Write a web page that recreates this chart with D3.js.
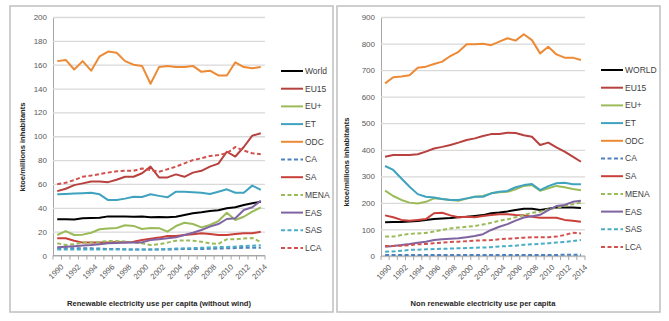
<!DOCTYPE html>
<html>
<head>
<meta charset="utf-8">
<script src="https://cdn.jsdelivr.net/npm/d3@7"></script>
<style>
    body { margin: 0; background: #fff; }
    svg { font-family: "Liberation Sans", Arial, sans-serif; }
</style>
</head>
<body>
<svg width="669" height="321"></svg>
<script>
// years on the x axis
var years = d3.range(1990, 2015);

// renewable electricity use per capita (without wind), ktoe / millions inhabitants
var renWorld = [30.3, 30.5, 30.2, 31.2, 31.5, 31.7, 32.8, 32.8, 32.6, 32.5, 32.8, 32, 32.2, 32, 32.5, 34, 35.4, 36.2, 37.3, 37.9, 39.6, 40.4, 42.3, 43.8, 45.1];
var renEU15 = [54, 56, 59, 60.5, 62, 62, 61.5, 63.5, 66, 66, 69, 74.5, 65.5, 65.5, 68, 66, 69.5, 71, 74.5, 77, 87, 83, 91, 100.5, 102.5];
var renEUplus = [17.2, 20.5, 17.2, 17.5, 19.1, 22, 22.6, 23.1, 25.3, 24.8, 22.2, 23, 22.9, 20, 24.7, 27.5, 26.4, 23.6, 25.6, 28.9, 35.9, 29.8, 32.5, 36.7, 40.4];
var renET = [51.3, 51.6, 52, 52.3, 52.6, 51.3, 46.5, 46.5, 47.7, 49.3, 49, 51.3, 50, 48.8, 53.5, 53.5, 53, 52.6, 51.6, 53.5, 55.5, 52.6, 52.6, 58.6, 55];
var renODC = [163, 164, 156, 163, 155, 167, 171, 170, 163, 160, 159, 144, 158, 159, 158, 158, 159, 154, 155, 151, 151, 162, 158, 157, 158];
var renCA = [6, 6, 6, 6, 6, 5.8, 5.5, 5.5, 5.2, 5, 5, 5, 5, 5, 5.2, 5.5, 5.5, 5.5, 5.6, 5.8, 6, 6.2, 6.5, 6.5, 6.5];
var renSA = [14.4, 14.4, 12.4, 10.8, 10.8, 11, 10.8, 11.3, 11, 11.5, 13, 14, 15, 16.4, 16.4, 17.2, 17.8, 18.6, 18.1, 17.2, 17.2, 18, 18.6, 18.6, 20];
var renMENA = [10.2, 8.8, 9.5, 10.8, 10.8, 11.4, 12.2, 12.2, 11.7, 10.8, 10.2, 8.8, 9.5, 10.8, 12.4, 12.7, 12.4, 11.6, 10.2, 9.8, 13.6, 13.6, 14.2, 14.7, 11.3];
var renEAS = [6.9, 7.3, 7.8, 8.3, 8.8, 9.5, 10.2, 10.5, 10.8, 11, 11, 13, 13.7, 14.4, 15.2, 17.2, 19.1, 21.4, 24.2, 26.4, 30.6, 31.2, 38.2, 40.4, 46];
var renSAS = [5, 5, 5, 5, 5, 5, 5, 5, 5, 5, 5, 5, 5.2, 5.5, 5.8, 6, 6.2, 6.5, 6.8, 7, 7.2, 7.5, 8, 8.2, 8.5];
var renLCA = [59.7, 61, 63.3, 66, 67, 68.3, 69.5, 70.6, 71, 71, 73, 71.7, 70.3, 72.3, 74.5, 77.3, 80, 81.5, 83.4, 84.3, 85.7, 91, 88, 85.7, 85];

// non renewable electricity use per capita
var nonWorld = [127, 128, 128, 130, 132, 136, 139, 141, 143, 146, 148, 151, 154, 161, 164, 168, 173, 178, 178, 173, 178, 183, 183, 183, 181];
var nonEU15 = [374, 380, 380, 380, 383, 393, 405, 411, 418, 427, 437, 443, 452, 459, 459, 464, 463, 455, 449, 418, 427, 409, 393, 374, 355];
var nonEUplus = [246, 226, 211, 201, 198, 204, 217, 215, 211, 208, 216, 223, 226, 236, 240, 242, 251, 264, 267, 246, 255, 264, 259, 252, 248];
var nonET = [339, 324, 292, 261, 233, 223, 220, 215, 211, 211, 217, 223, 223, 236, 242, 245, 259, 267, 271, 248, 263, 274, 276, 270, 270];
var nonODC = [650, 673, 676, 681, 709, 713, 723, 732, 753, 769, 797, 797, 799, 794, 807, 820, 811, 835, 813, 763, 788, 759, 747, 747, 738];
var nonCA = [4, 4, 4, 4, 4, 4, 4, 4, 4, 4, 4, 4, 4, 4, 4, 4, 4, 4, 4, 4, 4, 4, 5, 5, 5];
var nonSA = [153, 146, 136, 133, 136, 139, 161, 163, 153, 146, 148, 146, 151, 154, 157, 157, 154, 153, 148, 144, 144, 144, 136, 133, 129];
var nonMENA = [73, 73, 79, 83, 85, 87, 92, 98, 104, 107, 110, 113, 119, 125, 133, 138, 146, 154, 163, 167, 176, 182, 188, 195, 201];
var nonEAS = [35, 38, 41, 45, 50, 54, 60, 63, 65, 67, 71, 75, 82, 98, 110, 120, 133, 145, 150, 155, 173, 188, 192, 204, 208];
var nonSAS = [16, 17, 20, 23, 24, 25, 26, 27, 28, 29, 30, 31, 32, 33, 36, 37, 39, 42, 44, 46, 48, 51, 53, 56, 60];
var nonLCA = [38, 38, 39, 41, 44, 45, 48, 50, 53, 54, 56, 58, 59, 60, 63, 65, 67, 69, 71, 71, 71, 73, 79, 88, 85];

var leftNames = ["World", "EU15", "EU+", "ET", "ODC", "CA", "SA", "MENA", "EAS", "SAS", "LCA"];
var rightNames = ["WORLD", "EU15", "EU+", "ET", "ODC", "CA", "SA", "MENA", "EAS", "SAS", "LCA"];
var leftValues = [renWorld, renEU15, renEUplus, renET, renODC, renCA, renSA, renMENA, renEAS, renSAS, renLCA];
var rightValues = [nonWorld, nonEU15, nonEUplus, nonET, nonODC, nonCA, nonSA, nonMENA, nonEAS, nonSAS, nonLCA];

var leftTicks = d3.range(0, 201, 20);
var rightTicks = d3.range(0, 901, 100);

// line styles, same order as the names
var colors = ["#000000", "#B7413E", "#9BBB59", "#3FA3BF", "#EC8A35", "#4F81BD", "#C9403B", "#9BBB59", "#8064A2", "#4BACC6", "#D2504D"];
var dashed = [false, false, false, false, false, true, false, true, false, true, true];

var svg = d3.select("svg");

function drawPanel(p) {
    var g = svg.append("g");

    // frame
    g.append("rect")
        .attr("x", p.box[0]).attr("y", p.box[1])
        .attr("width", p.box[2]).attr("height", p.box[3])
        .attr("fill", "#fff")
        .attr("stroke", "#BFBFBF")
        .attr("stroke-width", 1.5);

    var x = d3.scaleBand().domain(years).range([p.left, p.right]);
    var y = d3.scaleLinear().domain([0, p.max]).range([p.bottom, p.top]);

    // gridlines + y labels
    var yAxis = g.append("g")
        .attr("transform", "translate(" + p.left + ",0)")
        .call(d3.axisLeft(y).tickValues(p.ticks).tickSize(-(p.right - p.left)).tickPadding(6));
    yAxis.select(".domain").attr("stroke", "#A6A6A6");
    yAxis.selectAll(".tick line").attr("stroke", "#D9D9D9").attr("stroke-width", 1.3);
    yAxis.selectAll(".tick text").attr("fill", "#595959").style("font-size", "8px");

    // x axis: base line, ticks between categories, labels every other year
    var xg = g.append("g");
    xg.append("line")
        .attr("x1", p.left).attr("x2", p.right)
        .attr("y1", p.bottom).attr("y2", p.bottom)
        .attr("stroke", "#A6A6A6");
    xg.selectAll(".xt")
        .data(years.concat([null]))
        .enter().append("line")
        .attr("x1", function (d) { return d === null ? p.right : x(d); })
        .attr("x2", function (d) { return d === null ? p.right : x(d); })
        .attr("y1", p.bottom).attr("y2", p.bottom + 4)
        .attr("stroke", "#A6A6A6");
    xg.selectAll(".xl")
        .data(years.filter(function (d) { return d % 2 === 0; }))
        .enter().append("text")
        .attr("transform", function (d) {
            return "translate(" + (x(d) + x.bandwidth() / 2 + 3) + "," + (p.bottom + 8) + ") rotate(-45)";
        })
        .attr("text-anchor", "end")
        .attr("dy", "0.7em")
        .attr("fill", "#595959")
        .style("font-size", "7.8px")
        .text(function (d) { return d; });

    // series
    var line = d3.line()
        .x(function (d, i) { return x(years[i]) + x.bandwidth() / 2; })
        .y(function (d) { return y(d); });

    p.values.forEach(function (vals, k) {
        g.append("path")
            .datum(vals)
            .attr("fill", "none")
            .attr("stroke", colors[k])
            .attr("stroke-width", 2)
            .attr("stroke-linejoin", "round")
            .attr("stroke-dasharray", dashed[k] ? "4,2.5" : null)
            .attr("d", line);
    });

    // legend
    var leg = g.selectAll(".leg")
        .data(p.names)
        .enter().append("g")
        .attr("transform", function (d, i) {
            return "translate(" + p.legendX + "," + (p.legendY + i * 17.7) + ")";
        });
    leg.append("line")
        .attr("x1", 0).attr("x2", 22)
        .attr("stroke", function (d, i) { return colors[i]; })
        .attr("stroke-width", 2)
        .attr("stroke-dasharray", function (d, i) { return dashed[i] ? "4,2.5" : null; });
    leg.append("text")
        .attr("x", 24)
        .attr("dy", "0.35em")
        .attr("fill", "#404040")
        .style("font-size", "8.5px")
        .text(function (d) { return d; });

    // titles
    g.append("text")
        .attr("x", (p.left + p.right) / 2)
        .attr("y", 306)
        .attr("text-anchor", "middle")
        .attr("font-weight", "bold")
        .attr("fill", "#262626")
        .style("font-size", "7.6px")
        .text(p.xTitle);
    g.append("text")
        .attr("transform", "translate(" + p.yTitleX + "," + p.yTitleY + ") rotate(-90)")
        .attr("text-anchor", "middle")
        .attr("font-weight", "bold")
        .attr("fill", "#262626")
        .style("font-size", "7.6px")
        .text("ktoe/millions inhabitants");
}

drawPanel({
    box: [10, 6, 323, 306],
    left: 53, right: 265, top: 17, bottom: 255.5,
    max: 200, ticks: leftTicks,
    values: leftValues, names: leftNames,
    legendX: 281, legendY: 71,
    xTitle: "Renewable electricity use per capita (without wind)",
    yTitleX: 25, yTitleY: 147
});

drawPanel({
    box: [337, 6, 323, 306],
    left: 381, right: 585, top: 17, bottom: 256,
    max: 900, ticks: rightTicks,
    values: rightValues, names: rightNames,
    legendX: 601, legendY: 70,
    xTitle: "Non renewable electricity use per capita",
    yTitleX: 349, yTitleY: 162
});
</script>
</body>
</html>
